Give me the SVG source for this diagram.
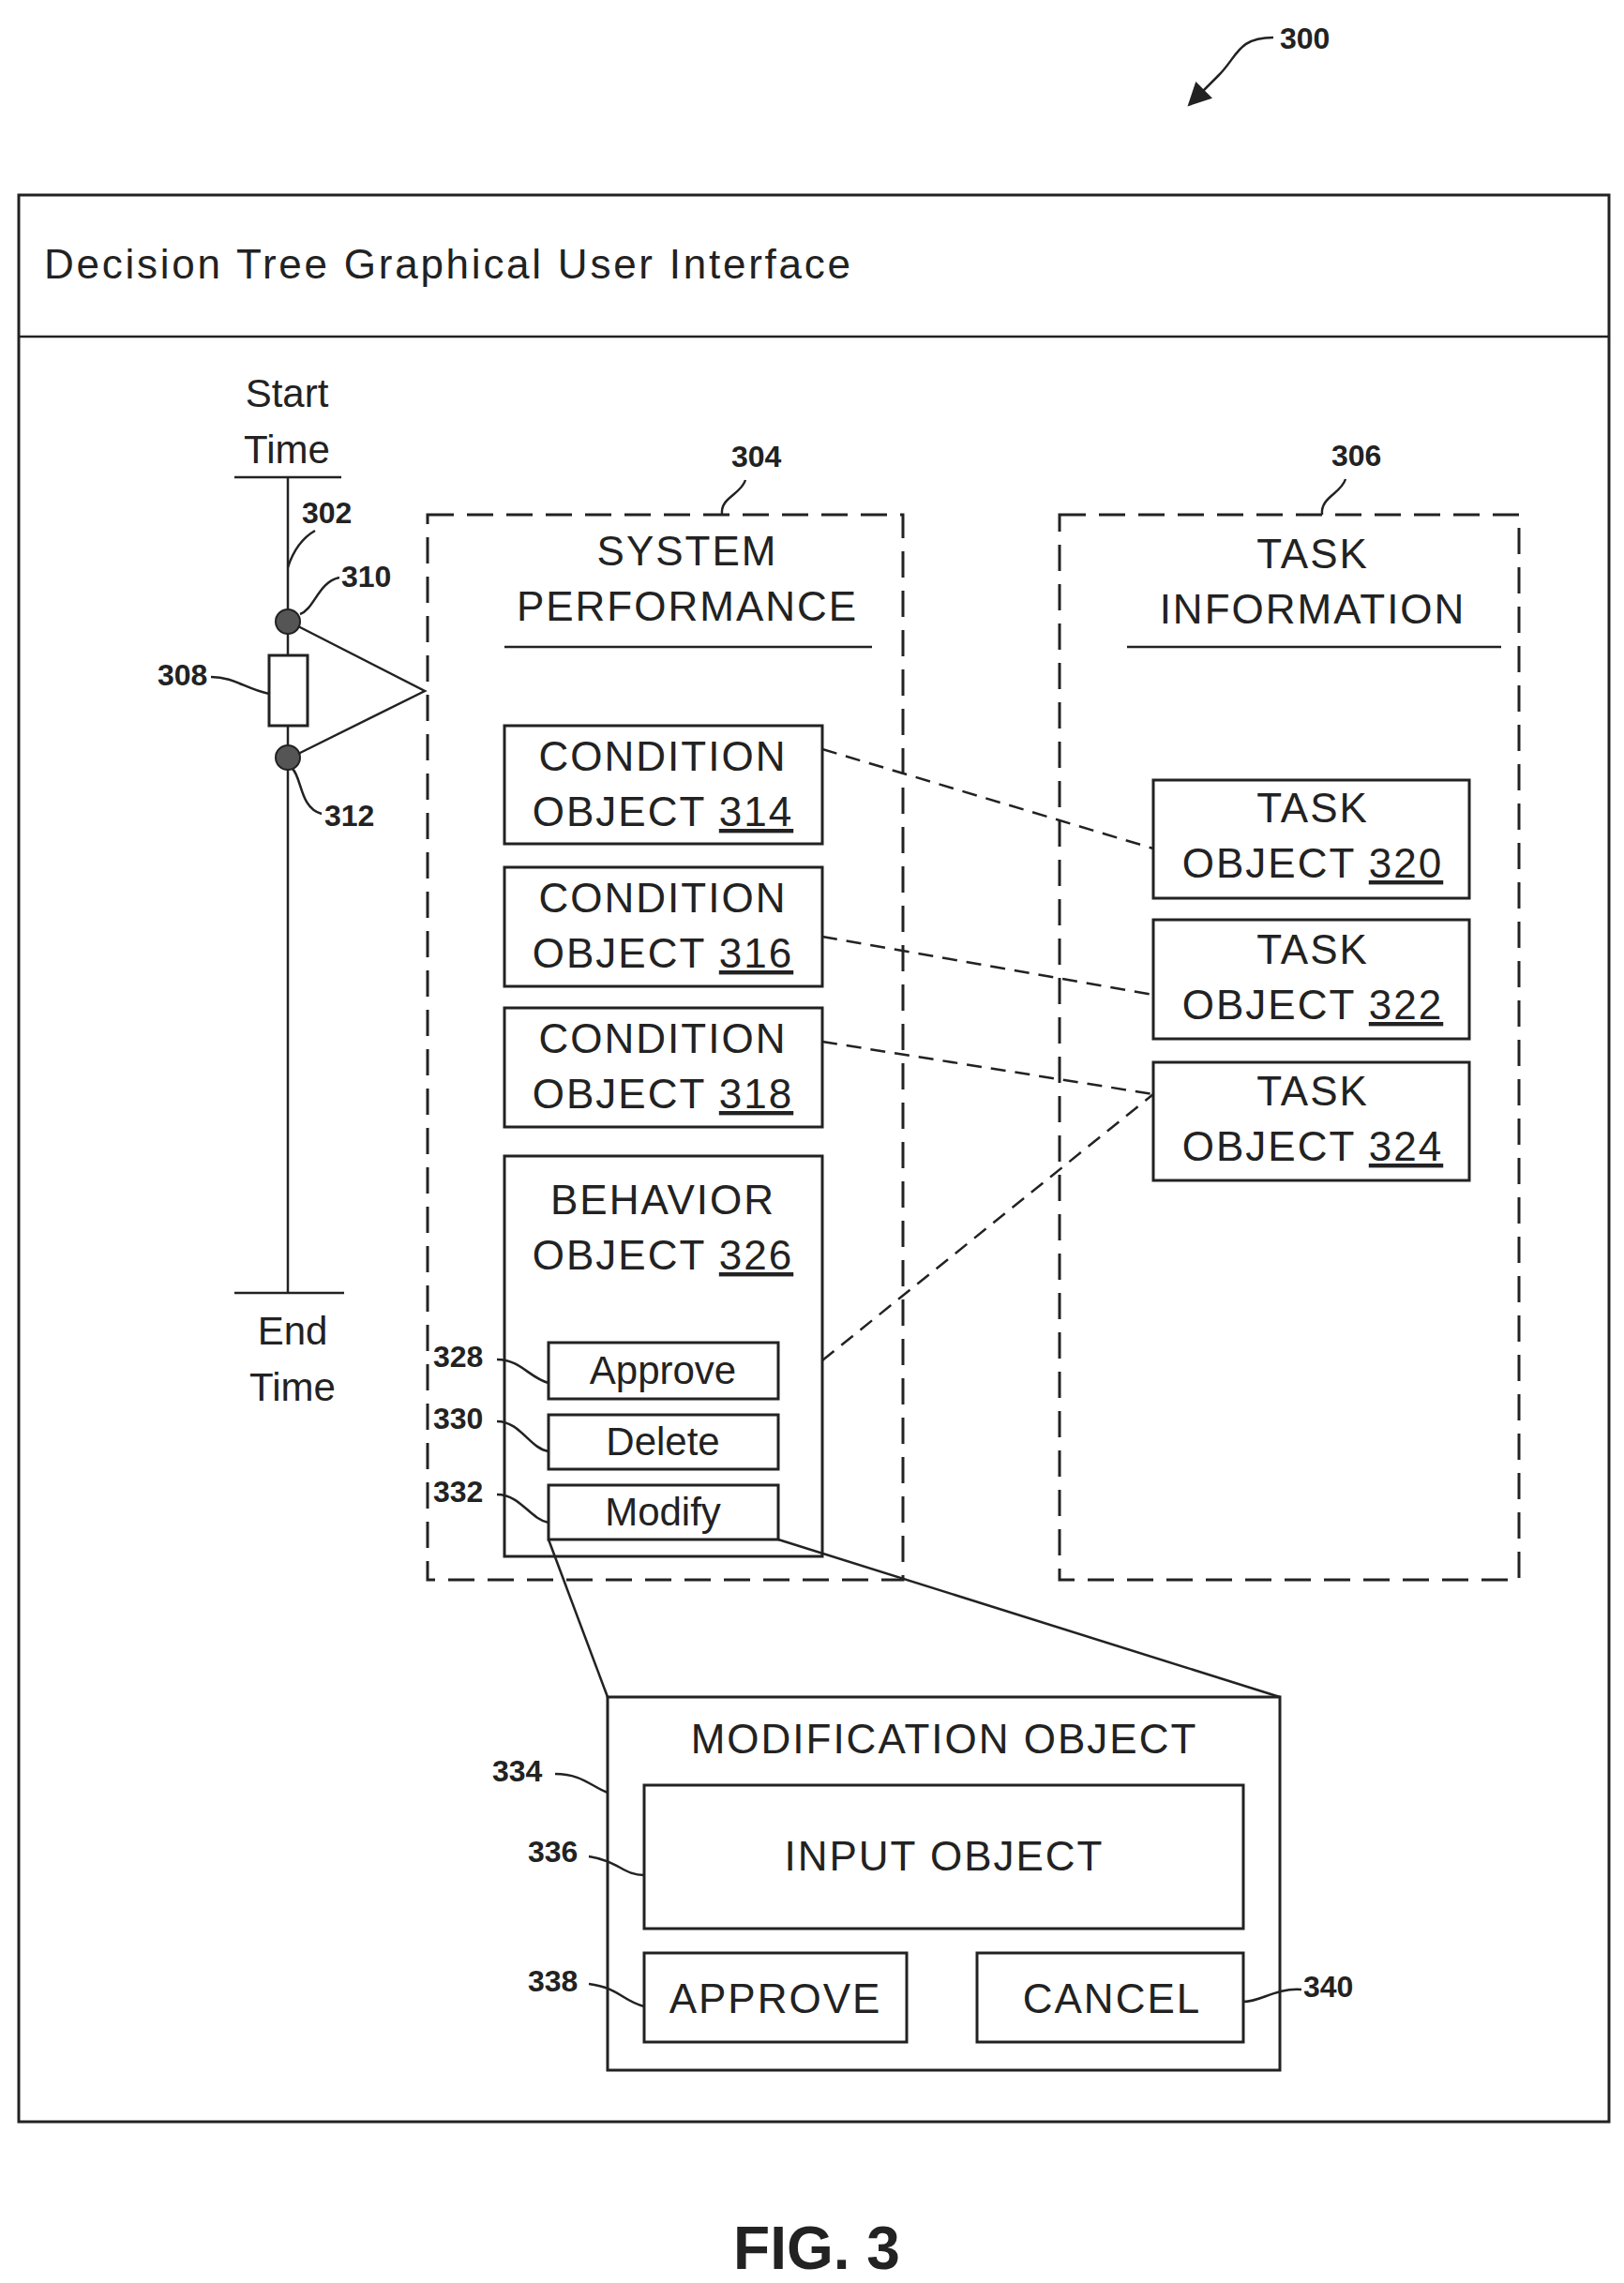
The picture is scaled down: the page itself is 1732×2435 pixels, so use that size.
<svg xmlns="http://www.w3.org/2000/svg" width="1732" height="2435" viewBox="0 0 1732 2435">
<style>
.t{font-family:"Liberation Sans",Arial,sans-serif;font-size:44px;fill:#222;text-anchor:middle;letter-spacing:2px}
.s{font-family:"Liberation Sans",Arial,sans-serif;font-size:42px;fill:#222;text-anchor:middle}
.n{font-family:"Liberation Sans",Arial,sans-serif;font-size:32px;font-weight:bold;fill:#222}
.b{fill:#fff;stroke:#222;stroke-width:3}
.d{fill:none;stroke:#222;stroke-width:3;stroke-dasharray:28 14}
.l{fill:none;stroke:#222;stroke-width:2.5}
.dl{fill:none;stroke:#222;stroke-width:2.5;stroke-dasharray:16 10}
</style>
<defs><marker id="a" markerWidth="10" markerHeight="10" refX="8" refY="5" orient="auto" markerUnits="strokeWidth"><path d="M0,0 L10,5 L0,10 z" fill="#222"/></marker></defs>
<g id="fig300"><text class="n" x="1365" y="52" font-size="40">300</text>
<path class="l" d="M1358,40 C1320,40 1320,60 1300,80 L1270,110" stroke-width="3" marker-end="url(#a)"/></g>
<g id="gui"><rect class="b" x="20" y="208" width="1696" height="2055"/><line class="l" x1="20" y1="359" x2="1716" y2="359"/>
<text x="47" y="297" font-family="Liberation Sans,Arial,sans-serif" font-size="44" fill="#222" textLength="860" lengthAdjust="spacing">Decision Tree Graphical User Interface</text></g>
<g id="timeline">
<text class="s" x="306" y="434">Start</text><text class="s" x="306" y="494">Time</text>
<line class="l" x1="250" y1="509" x2="364" y2="509"/>
<line class="l" x1="307" y1="509" x2="307" y2="1379"/>
<line class="l" x1="250" y1="1379" x2="367" y2="1379"/>
<text class="s" x="312" y="1434">End</text><text class="s" x="312" y="1494">Time</text>
<text class="n" x="322" y="558">302</text><path class="l" d="M336,566 C320,575 312,590 307,605"/>
</g>
<g id="n310"><circle cx="307" cy="663" r="13" fill="#555" stroke="#222" stroke-width="2"/><text class="n" x="364" y="626">310</text><path class="l" d="M362,616 C340,620 335,650 320,655"/></g>
<g id="n308"><rect class="b" x="287" y="699" width="41" height="75"/><text class="n" x="168" y="731">308</text><path class="l" d="M225,722 C250,722 262,735 287,740"/></g>
<g id="n312"><circle cx="307" cy="808" r="13" fill="#555" stroke="#222" stroke-width="2"/><text class="n" x="346" y="881">312</text><path class="l" d="M343,868 C320,862 322,830 312,820"/></g>
<g id="branch"><path class="l" d="M318,668 L453,737 L318,804"/></g>
<g id="n304"><rect class="d" x="456" y="549" width="507" height="1136"/><text class="n" x="780" y="498">304</text><path class="l" d="M795,512 C790,528 768,530 770,549"/>
<text class="t" x="733" y="603">SYSTEM</text><text class="t" x="733" y="662">PERFORMANCE</text><line class="l" x1="538" y1="690" x2="930" y2="690"/></g>
<g id="n306"><rect class="d" x="1130" y="549" width="490" height="1136"/><text class="n" x="1420" y="497">306</text><path class="l" d="M1435,511 C1430,527 1408,530 1410,549"/>
<text class="t" x="1400" y="606">TASK</text><text class="t" x="1400" y="665">INFORMATION</text><line class="l" x1="1202" y1="690" x2="1601" y2="690"/></g>
<g id="n314"><rect class="b" x="538" y="774" width="339" height="126"/><text class="t" x="707" y="822">CONDITION</text><text class="t" x="707" y="881">OBJECT <tspan text-decoration="underline">314</tspan></text></g>
<g id="n316"><rect class="b" x="538" y="925" width="339" height="127"/><text class="t" x="707" y="973">CONDITION</text><text class="t" x="707" y="1032">OBJECT <tspan text-decoration="underline">316</tspan></text></g>
<g id="n318"><rect class="b" x="538" y="1075" width="339" height="127"/><text class="t" x="707" y="1123">CONDITION</text><text class="t" x="707" y="1182">OBJECT <tspan text-decoration="underline">318</tspan></text></g>
<g id="n326"><rect class="b" x="538" y="1233" width="339" height="427"/><text class="t" x="707" y="1295">BEHAVIOR</text><text class="t" x="707" y="1354">OBJECT <tspan text-decoration="underline">326</tspan></text></g>
<g id="n328"><rect class="b" x="585" y="1432" width="245" height="60"/><text class="s" x="707" y="1476">Approve</text><text class="n" x="462" y="1458">328</text><path class="l" d="M530,1450 C555,1450 565,1470 585,1475"/></g>
<g id="n330"><rect class="b" x="585" y="1509" width="245" height="58"/><text class="s" x="707" y="1552">Delete</text><text class="n" x="462" y="1524">330</text><path class="l" d="M530,1516 C555,1516 565,1545 585,1548"/></g>
<g id="n332"><rect class="b" x="585" y="1584" width="245" height="58"/><text class="s" x="707" y="1627">Modify</text><text class="n" x="462" y="1602">332</text><path class="l" d="M530,1594 C555,1594 565,1620 585,1624"/></g>
<g id="n320"><rect class="b" x="1230" y="832" width="337" height="126"/><text class="t" x="1400" y="877">TASK</text><text class="t" x="1400" y="936">OBJECT <tspan text-decoration="underline">320</tspan></text></g>
<g id="n322"><rect class="b" x="1230" y="981" width="337" height="127"/><text class="t" x="1400" y="1028">TASK</text><text class="t" x="1400" y="1087">OBJECT <tspan text-decoration="underline">322</tspan></text></g>
<g id="n324"><rect class="b" x="1230" y="1133" width="337" height="126"/><text class="t" x="1400" y="1179">TASK</text><text class="t" x="1400" y="1238">OBJECT <tspan text-decoration="underline">324</tspan></text></g>
<g id="connectors">
<line class="dl" x1="877" y1="799" x2="1230" y2="905"/>
<line class="dl" x1="877" y1="999" x2="1230" y2="1061"/>
<line class="dl" x1="877" y1="1111" x2="1230" y2="1167"/>
<line class="dl" x1="877" y1="1451" x2="1230" y2="1167"/>
<line class="l" x1="585" y1="1642" x2="648" y2="1810"/>
<line class="l" x1="830" y1="1642" x2="1365" y2="1810"/>
</g>
<g id="n334"><rect class="b" x="648" y="1810" width="717" height="398"/><text class="t" x="1007" y="1870">MODIFICATION OBJECT</text><text class="n" x="525" y="1900">334</text><path class="l" d="M592,1892 C620,1892 630,1905 648,1912"/></g>
<g id="n336"><rect class="b" x="687" y="1904" width="639" height="153"/><text class="t" x="1007" y="1995">INPUT OBJECT</text><text class="n" x="563" y="1986">336</text><path class="l" d="M628,1980 C660,1985 665,2000 687,2000"/></g>
<g id="n338"><rect class="b" x="687" y="2083" width="280" height="95"/><text class="t" x="827" y="2147">APPROVE</text><text class="n" x="563" y="2124">338</text><path class="l" d="M628,2116 C660,2120 665,2135 687,2140"/></g>
<g id="n340"><rect class="b" x="1042" y="2083" width="284" height="95"/><text class="t" x="1186" y="2147">CANCEL</text><text class="n" x="1390" y="2130">340</text><path class="l" d="M1326,2135 C1345,2135 1360,2120 1388,2122"/></g>
<text x="871" y="2420" font-family="Liberation Sans,Arial,sans-serif" font-size="64" font-weight="bold" fill="#222" text-anchor="middle">FIG. 3</text>
</svg>
